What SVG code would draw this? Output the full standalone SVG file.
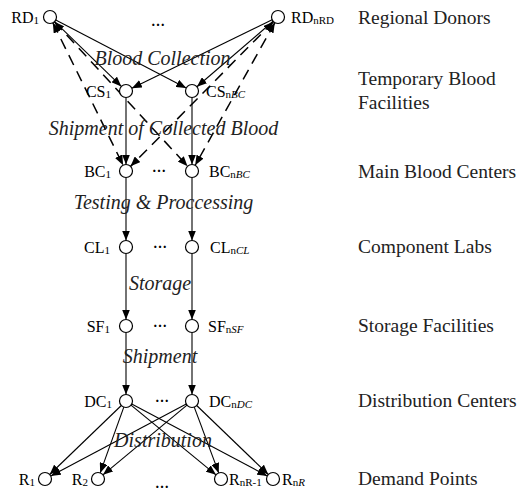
<svg xmlns="http://www.w3.org/2000/svg" width="527" height="492" viewBox="0 0 527 492">
<style>
.bg{fill:#fff}
.c{fill:#fff;stroke:#000;stroke-width:1.2}
.e{stroke:#000;stroke-width:1.1;fill:none;marker-end:url(#ah)}
.d{stroke:#000;stroke-width:1.5;fill:none;stroke-dasharray:11,7;marker-end:url(#ah);marker-start:url(#ah)}
.n{font-family:"Liberation Serif","Times New Roman",serif;font-size:16px;fill:#000}
.s{font-size:11px}
.i{font-style:italic}
.L{font-family:"Liberation Serif","Times New Roman",serif;font-size:19.5px;fill:#222}
.f{font-family:"Liberation Serif","Times New Roman",serif;font-size:20px;font-style:italic;fill:#222;text-anchor:middle}
.dots{font-family:"Liberation Serif",serif;font-size:14px;font-weight:bold;text-anchor:middle;fill:#000}
</style>
<defs>
<marker id="ah" viewBox="0 0 10 8" markerWidth="10" markerHeight="8" refX="10" refY="4" orient="auto-start-reverse" markerUnits="userSpaceOnUse">
<path d="M0,0 L10,4 L0,8 z" fill="#000"/>
</marker>
</defs>
<rect class="bg" x="0" y="0" width="527" height="492"/>
<g id="connectors">
<line class="e" x1="54.65" y1="21.53" x2="121.35" y2="86.47"/>
<line class="e" x1="55.77" y1="20.0" x2="186.23" y2="88.0"/>
<line class="e" x1="272.16" y1="19.85" x2="131.84" y2="88.15"/>
<line class="e" x1="273.08" y1="21.24" x2="196.92" y2="86.76"/>
<line class="d" x1="52.88" y1="22.83" x2="123.12" y2="165.17"/>
<line class="d" x1="54.41" y1="21.78" x2="187.59" y2="166.22"/>
<line class="d" x1="273.44" y1="21.63" x2="130.56" y2="166.37"/>
<line class="d" x1="274.83" y1="22.67" x2="195.17" y2="165.33"/>
<line class="e" x1="126" y1="97.5" x2="126" y2="164.5"/>
<line class="e" x1="192" y1="97.5" x2="192" y2="164.5"/>
<line class="e" x1="126" y1="177.5" x2="126" y2="240.5"/>
<line class="e" x1="192" y1="177.5" x2="192" y2="240.5"/>
<line class="e" x1="126" y1="253.5" x2="126" y2="319.5"/>
<line class="e" x1="192" y1="253.5" x2="192" y2="319.5"/>
<line class="e" x1="126" y1="332.5" x2="126" y2="394.5"/>
<line class="e" x1="192" y1="332.5" x2="192" y2="394.5"/>
<line class="e" x1="121.32" y1="405.51" x2="49.68" y2="474.49"/>
<line class="e" x1="123.80" y1="407.12" x2="100.20" y2="472.88"/>
<line class="e" x1="131.02" y1="405.13" x2="215.98" y2="474.87"/>
<line class="e" x1="131.74" y1="404.05" x2="267.26" y2="475.95"/>
<line class="e" x1="186.26" y1="404.05" x2="50.74" y2="475.95"/>
<line class="e" x1="187.0" y1="405.15" x2="103.0" y2="474.85"/>
<line class="e" x1="194.27" y1="407.09" x2="218.73" y2="472.91"/>
<line class="e" x1="196.68" y1="405.51" x2="268.32" y2="474.49"/>
</g>
<g id="RD1"><circle class="c" cx="50" cy="17" r="6.5"/><text class="n" x="39" y="23" text-anchor="end">RD<tspan class="s" dy="1">1</tspan></text></g>
<g id="RDn"><circle class="c" cx="278" cy="17" r="6.5"/><text class="n" x="291" y="23">RD<tspan class="s" dy="1">nRD</tspan></text></g>
<g id="CS1"><circle class="c" cx="126" cy="91" r="6.5"/><text class="n" x="111" y="97" text-anchor="end">CS<tspan class="s" dy="1">1</tspan></text></g>
<g id="CSn"><circle class="c" cx="192" cy="91" r="6.5"/><text class="n" x="206" y="97">CS<tspan class="s" dy="1">n<tspan class="i">BC</tspan></tspan></text></g>
<g id="BC1"><circle class="c" cx="126" cy="171" r="6.5"/><text class="n" x="111" y="177" text-anchor="end">BC<tspan class="s" dy="1">1</tspan></text></g>
<g id="BCn"><circle class="c" cx="192" cy="171" r="6.5"/><text class="n" x="209" y="177">BC<tspan class="s" dy="1">n<tspan class="i">BC</tspan></tspan></text></g>
<g id="CL1"><circle class="c" cx="126" cy="247" r="6.5"/><text class="n" x="110" y="253" text-anchor="end">CL<tspan class="s" dy="1">1</tspan></text></g>
<g id="CLn"><circle class="c" cx="192" cy="247" r="6.5"/><text class="n" x="210" y="253">CL<tspan class="s" dy="1">n<tspan class="i">CL</tspan></tspan></text></g>
<g id="SF1"><circle class="c" cx="126" cy="326" r="6.5"/><text class="n" x="110" y="332" text-anchor="end">SF<tspan class="s" dy="1">1</tspan></text></g>
<g id="SFn"><circle class="c" cx="192" cy="326" r="6.5"/><text class="n" x="208" y="332">SF<tspan class="s" dy="1">n<tspan class="i">SF</tspan></tspan></text></g>
<g id="DC1"><circle class="c" cx="126" cy="401" r="6.5"/><text class="n" x="112" y="407" text-anchor="end">DC<tspan class="s" dy="1">1</tspan></text></g>
<g id="DCn"><circle class="c" cx="192" cy="401" r="6.5"/><text class="n" x="209" y="407">DC<tspan class="s" dy="1">n<tspan class="i">DC</tspan></tspan></text></g>
<g id="R1"><circle class="c" cx="45" cy="479" r="6.5"/><text class="n" x="35" y="485" text-anchor="end">R<tspan class="s" dy="1">1</tspan></text></g>
<g id="R2"><circle class="c" cx="98" cy="479" r="6.5"/><text class="n" x="88" y="485" text-anchor="end">R<tspan class="s" dy="1">2</tspan></text></g>
<g id="Rn1"><circle class="c" cx="221" cy="479" r="6.5"/><text class="n" x="229" y="485">R<tspan class="s" dy="1">nR-1</tspan></text></g>
<g id="Rn"><circle class="c" cx="273" cy="479" r="6.5"/><text class="n" x="282" y="485">R<tspan class="s" dy="1">n<tspan class="i">R</tspan></tspan></text></g>
<g id="ellipses">
<text class="dots" x="158" y="26">…</text>
<text class="dots" x="159" y="172">…</text>
<text class="dots" x="160" y="248">…</text>
<text class="dots" x="160" y="327">…</text>
<text class="dots" x="162" y="402">…</text>
<text class="dots" x="162" y="488">…</text>
</g>
<g id="flow-labels">
<text class="f" x="162.5" y="65">Blood Collection</text>
<text class="f" x="163.5" y="135">Shipment of Collected Blood</text>
<text class="f" x="163.5" y="209">Testing &amp; Proccessing</text>
<text class="f" x="160" y="290">Storage</text>
<text class="f" x="160" y="363">Shipment</text>
<text class="f" x="163" y="447">Distribution</text>
</g>
<g id="tier-labels">
<text class="L" x="358" y="24">Regional Donors</text>
<text class="L" x="358" y="85">Temporary Blood</text>
<text class="L" x="358" y="109">Facilities</text>
<text class="L" x="358" y="178">Main Blood Centers</text>
<text class="L" x="358" y="253">Component Labs</text>
<text class="L" x="358" y="332">Storage Facilities</text>
<text class="L" x="358" y="407">Distribution Centers</text>
<text class="L" x="358" y="485">Demand Points</text>
</g>
</svg>
